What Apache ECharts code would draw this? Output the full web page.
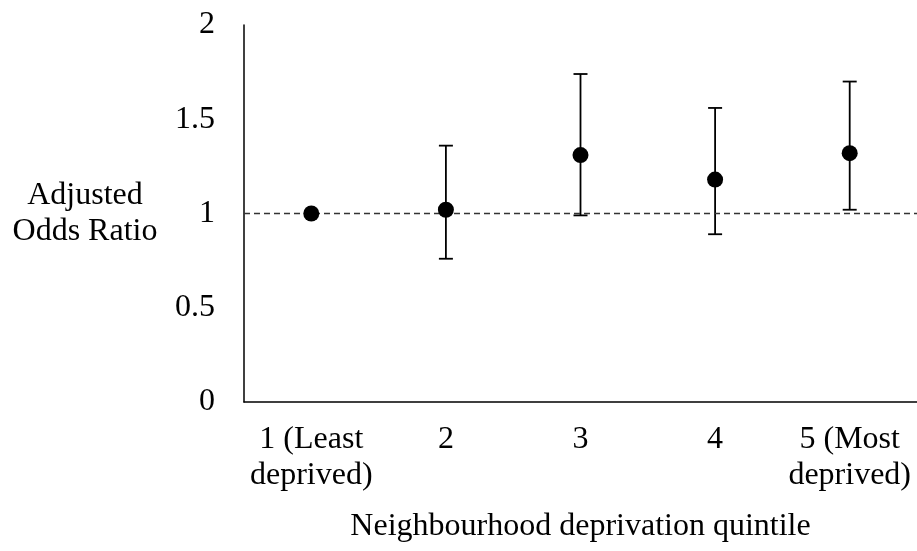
<!DOCTYPE html>
<html>
<head>
<meta charset="utf-8">
<script src="https://cdn.jsdelivr.net/npm/echarts@6/dist/echarts.min.js"></script>
<style>
html,body{margin:0;padding:0;background:#fff;}
#chart{width:917px;height:551px;}
</style>
</head>
<body>
<div id="chart"></div>
<script>
const categories = ['1 (Least\ndeprived)', '2', '3', '4', '5 (Most\ndeprived)'];
const oddsRatio = [1.00, 1.02, 1.31, 1.18, 1.32];
const lowerCI = [null, 0.76, 0.99, 0.89, 1.02];
const upperCI = [null, 1.36, 1.74, 1.56, 1.70];
const yTicks = [0, 0.5, 1, 1.5, 2];

const FONT = '"Liberation Serif", "Times New Roman", serif';

const errData = [];
categories.forEach((c, i) => {
  if (lowerCI[i] != null && upperCI[i] != null) errData.push([i, lowerCI[i], upperCI[i]]);
});

const chart = echarts.init(document.getElementById('chart'));
chart.setOption({
  animation: false,
  backgroundColor: '#fff',
  grid: { left: 244, top: 25, width: 675, height: 378 },
  xAxis: {
    type: 'category',
    data: categories,
    boundaryGap: true,
    axisLine: { show: true, lineStyle: { color: '#000', width: 1.5 } },
    axisTick: { show: false },
    axisLabel: { color: '#000', fontFamily: FONT, fontSize: 32, lineHeight: 36, margin: 20, interval: 0 },
    splitLine: { show: false },
    name: 'Neighbourhood deprivation quintile',
    nameLocation: 'middle',
    nameGap: 106,
    nameTextStyle: { color: '#000', fontFamily: FONT, fontSize: 32, lineHeight: 38 }
  },
  yAxis: {
    type: 'value',
    min: yTicks[0],
    max: yTicks[yTicks.length - 1],
    interval: yTicks[1] - yTicks[0],
    axisLine: { show: true, lineStyle: { color: '#000', width: 1.5 } },
    axisTick: { show: false },
    splitLine: { show: false },
    axisLabel: { color: '#000', fontFamily: FONT, fontSize: 32, margin: 29 },
    name: 'Adjusted\nOdds Ratio',
    nameLocation: 'middle',
    nameRotate: 0,
    nameGap: 159,
    nameTextStyle: { color: '#000', fontFamily: FONT, fontSize: 32, lineHeight: 36, align: 'center', verticalAlign: 'middle' }
  },
  series: [
    {
      type: 'custom',
      z: 3,
      data: errData,
      renderItem: function (params, api) {
        const x = api.value(0);
        const lo = api.coord([x, api.value(1)]);
        const hi = api.coord([x, api.value(2)]);
        const hw = 7;
        const st = { stroke: '#000', lineWidth: 1.8 };
        return {
          type: 'group',
          children: [
            { type: 'line', shape: { x1: lo[0], y1: lo[1], x2: hi[0], y2: hi[1] }, style: st },
            { type: 'line', shape: { x1: hi[0] - hw, y1: hi[1], x2: hi[0] + hw, y2: hi[1] }, style: st },
            { type: 'line', shape: { x1: lo[0] - hw, y1: lo[1], x2: lo[0] + hw, y2: lo[1] }, style: st }
          ]
        };
      }
    },
    {
      type: 'scatter',
      z: 5,
      data: oddsRatio,
      symbol: 'circle',
      symbolSize: 16,
      itemStyle: { color: '#000', opacity: 1 },
      markLine: {
        silent: true,
        symbol: 'none',
        label: { show: false },
        lineStyle: { color: '#333', width: 1.4, type: [6, 4], opacity: 1 },
        data: [{ yAxis: 1 }]
      }
    }
  ]
});
</script>
</body>
</html>
